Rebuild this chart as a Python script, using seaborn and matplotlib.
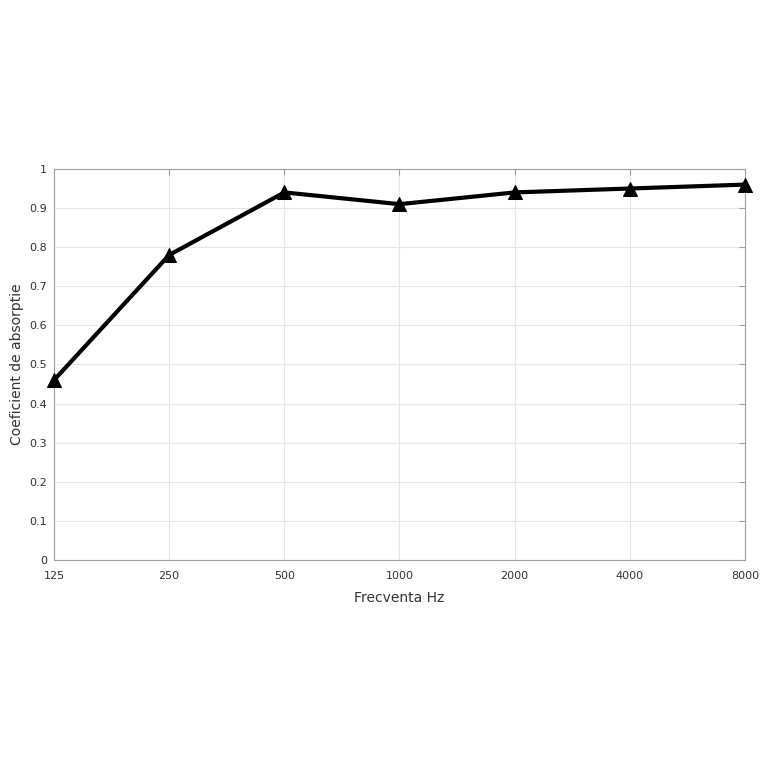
import matplotlib
matplotlib.use("Agg")
import matplotlib.pyplot as plt
import seaborn as sns
import pandas as pd
from matplotlib.ticker import FixedLocator, FixedFormatter, NullLocator

freqs = [125, 250, 500, 1000, 2000, 4000, 8000]
freq_labels = ["125", "250", "500", "1000", "2000", "4000", "8000"]
coef = [0.46, 0.78, 0.94, 0.91, 0.94, 0.95, 0.96]
y_ticks = [0, 0.1, 0.2, 0.3, 0.4, 0.5, 0.6, 0.7, 0.8, 0.9, 1]
y_labels = ["0", "0.1", "0.2", "0.3", "0.4", "0.5", "0.6", "0.7", "0.8", "0.9", "1"]

sns.set_style("white")
plt.rcParams["font.family"] = ["DejaVu Sans"]

fig = plt.figure(figsize=(7.68, 7.68), dpi=100)
ax = fig.add_axes([0.0703, 0.2708, 0.8997, 0.5092])

df = pd.DataFrame({"f": freqs, "c": coef})
sns.lineplot(data=df, x="f", y="c", ax=ax, color="black", linewidth=3,
             marker="^", markersize=10, markeredgecolor="black", zorder=3,
             clip_on=False)

ax.set_xscale("log", base=2)
ax.set_xlim(125, 8000)
ax.set_ylim(0, 1)
ax.xaxis.set_major_locator(FixedLocator(freqs))
ax.xaxis.set_major_formatter(FixedFormatter(freq_labels))
ax.xaxis.set_minor_locator(NullLocator())
ax.set_yticks(y_ticks)
ax.set_yticklabels(y_labels)

ax.grid(True, color="#e6e6e6", linewidth=0.8)
ax.set_axisbelow(True)
for s in ax.spines.values():
    s.set_color("#a0a0a0")
    s.set_linewidth(0.8)
ax.tick_params(axis="both", direction="in", length=4, color="#a0a0a0",
               labelsize=8, labelcolor="#333333", top=True, right=True)
ax.tick_params(axis="x", pad=8)
ax.tick_params(axis="y", pad=5)
ax.set_xlabel("Frecventa Hz", fontsize=10, color="#333333", labelpad=7)
ax.set_ylabel("Coeficient de absorptie", fontsize=10, color="#333333", labelpad=4)

fig.savefig("out.png", dpi=100, facecolor="white")
